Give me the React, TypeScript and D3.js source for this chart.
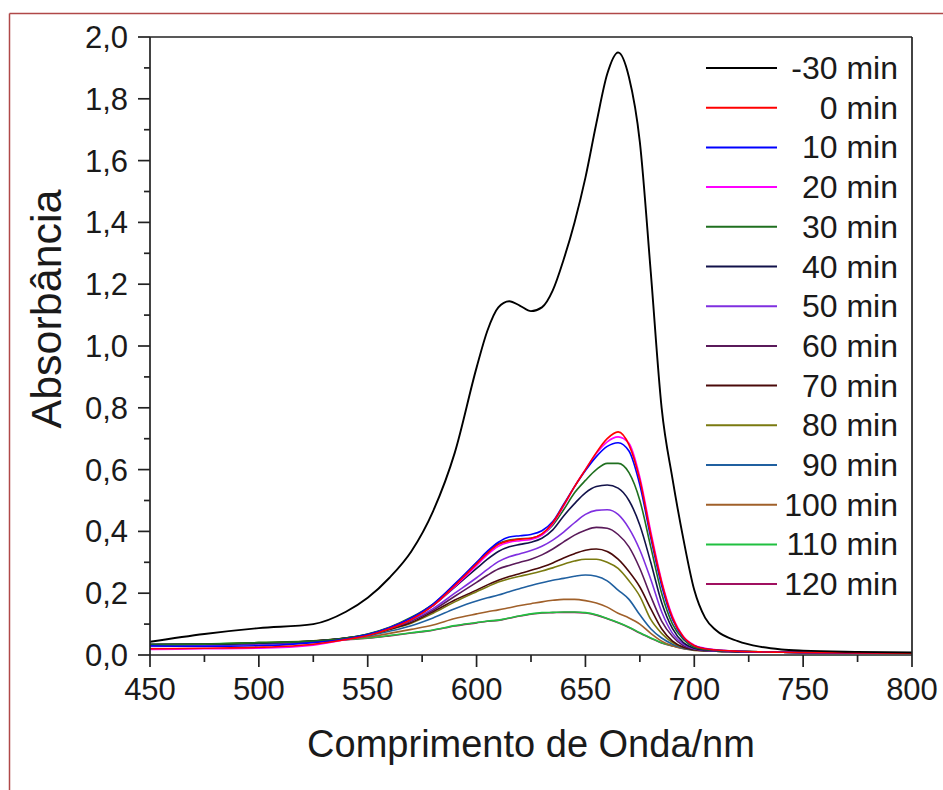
import React from "react";
import * as d3 from "d3";

const wavelengths = [450,475,500,525,540,550,560,570,580,590,600,605,610,615,620,625,630,635,640,645,650,655,660,665,670,675,680,685,690,695,700,705,710,720,730,740,750,775,800];

const seriesNames = ["-30 min","0 min","10 min","20 min","30 min","40 min","50 min","60 min","70 min","80 min","90 min","100 min","110 min","120 min"];
const seriesColors = ["#000000","#ff0000","#0000ff","#ff00ff","#1f6f1f","#12124a","#7f2fe0","#5a1a5a","#4a0a0a","#7a7a10","#2060a0","#a0602a","#20c040","#a01060"];

const sMinus30 = [0.043,0.068,0.087,0.100,0.140,0.185,0.250,0.335,0.465,0.655,0.930,1.050,1.125,1.145,1.130,1.113,1.125,1.180,1.280,1.400,1.545,1.720,1.880,1.950,1.870,1.660,1.240,0.800,0.570,0.375,0.210,0.120,0.080,0.045,0.027,0.018,0.014,0.010,0.008];
const s0 = [0.020,0.022,0.025,0.035,0.050,0.063,0.085,0.115,0.160,0.225,0.295,0.330,0.358,0.370,0.375,0.378,0.392,0.428,0.485,0.545,0.600,0.655,0.700,0.722,0.680,0.566,0.390,0.235,0.120,0.058,0.030,0.020,0.016,0.012,0.010,0.009,0.008,0.007,0.006];
const s10 = [0.030,0.028,0.030,0.040,0.052,0.066,0.088,0.120,0.165,0.230,0.300,0.336,0.365,0.382,0.386,0.390,0.402,0.432,0.488,0.545,0.597,0.642,0.675,0.687,0.660,0.550,0.380,0.225,0.115,0.056,0.030,0.020,0.016,0.012,0.010,0.009,0.008,0.007,0.006];
const s20 = [0.018,0.020,0.022,0.032,0.050,0.064,0.087,0.118,0.160,0.222,0.290,0.325,0.352,0.365,0.370,0.374,0.388,0.425,0.482,0.545,0.600,0.652,0.690,0.706,0.685,0.575,0.400,0.240,0.125,0.060,0.032,0.022,0.017,0.012,0.010,0.009,0.008,0.007,0.006];
const s30 = [0.032,0.035,0.040,0.045,0.055,0.068,0.090,0.122,0.165,0.228,0.298,0.333,0.360,0.372,0.376,0.378,0.390,0.420,0.470,0.525,0.565,0.600,0.620,0.620,0.590,0.500,0.350,0.200,0.100,0.050,0.025,0.018,0.015,0.012,0.010,0.009,0.008,0.007,0.006];
const s40 = [0.035,0.035,0.038,0.045,0.055,0.067,0.088,0.118,0.160,0.220,0.280,0.310,0.335,0.350,0.358,0.365,0.378,0.405,0.450,0.490,0.525,0.545,0.550,0.540,0.500,0.420,0.300,0.170,0.085,0.040,0.022,0.016,0.014,0.011,0.010,0.009,0.008,0.007,0.006];
const s50 = [0.028,0.030,0.035,0.043,0.054,0.066,0.086,0.113,0.150,0.200,0.250,0.277,0.302,0.318,0.328,0.338,0.352,0.372,0.398,0.428,0.455,0.468,0.470,0.455,0.410,0.340,0.245,0.140,0.070,0.035,0.020,0.015,0.013,0.011,0.010,0.009,0.008,0.007,0.006];
const s60 = [0.030,0.032,0.037,0.044,0.054,0.065,0.085,0.110,0.145,0.190,0.235,0.258,0.278,0.290,0.300,0.310,0.324,0.343,0.366,0.388,0.404,0.413,0.410,0.390,0.350,0.280,0.190,0.110,0.060,0.030,0.019,0.015,0.013,0.011,0.010,0.009,0.008,0.007,0.006];
const s70 = [0.033,0.034,0.038,0.045,0.055,0.065,0.083,0.105,0.140,0.178,0.210,0.227,0.242,0.254,0.264,0.274,0.285,0.298,0.314,0.328,0.339,0.343,0.335,0.310,0.270,0.220,0.150,0.085,0.045,0.025,0.017,0.014,0.012,0.011,0.010,0.009,0.008,0.007,0.006];
const s80 = [0.034,0.035,0.040,0.046,0.055,0.065,0.082,0.103,0.135,0.172,0.205,0.221,0.236,0.247,0.255,0.263,0.272,0.282,0.294,0.304,0.310,0.310,0.300,0.280,0.240,0.190,0.115,0.070,0.040,0.024,0.017,0.014,0.012,0.011,0.010,0.009,0.008,0.007,0.006];
const s90 = [0.030,0.032,0.037,0.044,0.053,0.062,0.077,0.095,0.120,0.150,0.175,0.185,0.194,0.205,0.215,0.225,0.234,0.242,0.248,0.255,0.259,0.255,0.240,0.210,0.180,0.130,0.085,0.055,0.035,0.022,0.016,0.014,0.012,0.011,0.010,0.009,0.008,0.007,0.006];
const s100 = [0.030,0.032,0.036,0.043,0.051,0.058,0.070,0.083,0.097,0.118,0.133,0.140,0.146,0.153,0.160,0.166,0.172,0.177,0.180,0.180,0.176,0.168,0.155,0.135,0.120,0.100,0.070,0.045,0.030,0.020,0.015,0.013,0.012,0.011,0.010,0.009,0.008,0.007,0.006];
const s110 = [0.035,0.036,0.040,0.044,0.050,0.055,0.063,0.072,0.081,0.095,0.105,0.110,0.113,0.120,0.127,0.133,0.137,0.138,0.139,0.139,0.137,0.130,0.118,0.105,0.090,0.072,0.055,0.040,0.030,0.022,0.018,0.015,0.013,0.011,0.010,0.009,0.008,0.007,0.006];
const s120 = [0.033,0.035,0.038,0.043,0.049,0.054,0.062,0.071,0.080,0.094,0.104,0.109,0.112,0.119,0.126,0.132,0.136,0.137,0.138,0.138,0.136,0.129,0.117,0.104,0.089,0.071,0.054,0.039,0.029,0.021,0.017,0.014,0.012,0.011,0.010,0.009,0.008,0.007,0.006];

const seriesValues = [sMinus30,s0,s10,s20,s30,s40,s50,s60,s70,s80,s90,s100,s110,s120];

const xMajorTicks = [450,500,550,600,650,700,750,800];
const yMajorTicks = [0,0.2,0.4,0.6,0.8,1.0,1.2,1.4,1.6,1.8,2.0];
const xTitle = "Comprimento de Onda/nm";
const yTitle = "Absorbância";

export default function App() {
  const W = 943, H = 790;
  const left = 150, right = 912, top = 37, bottom = 655;
  const x = d3.scaleLinear().domain([450, 800]).range([left, right]);
  const y = d3.scaleLinear().domain([0, 2.0]).range([bottom, top]);
  const line = d3.line<[number, number]>()
    .x(d => x(d[0]))
    .y(d => y(d[1]))
    .curve(d3.curveMonotoneX);
  const xMinor = d3.range(475, 800, 50);
  const yMinor = d3.range(0.1, 2.0, 0.2);
  const fmt = (v: number) => v.toFixed(1).replace(".", ",");
  const font = "'Liberation Sans', Arial, sans-serif";
  const legendX1 = 706, legendX2 = 777, legendTextX = 898, legendY0 = 68, legendStep = 39.7;
  const axisColor = "#222";
  const textColor = "#1a1a1a";

  const drawOrder = seriesValues.map((_, i) => i).reverse();

  return (
    <svg width={W} height={H} style={{ position: "absolute", left: 0, top: 0, background: "#fff" }} fontFamily={font}>
      <rect x={0} y={0} width={W} height={H} fill="#fff" />
      <line x1={9.5} y1={13.5} x2={9.5} y2={H} stroke="#b04848" strokeWidth={1.5} />
      <line x1={9.5} y1={13.5} x2={W} y2={13.5} stroke="#b04848" strokeWidth={1.5} />
      <defs>
        <clipPath id="plotclip">
          <rect x={left} y={top} width={right - left} height={bottom - top} />
        </clipPath>
      </defs>
      <g clipPath="url(#plotclip)">
        {drawOrder.map(i => (
          <path key={i}
            d={line(wavelengths.map((w, k) => [w, seriesValues[i][k]] as [number, number])) || ""}
            fill="none" stroke={seriesColors[i]} strokeWidth={i === 0 ? 1.9 : 1.6} strokeLinejoin="round" />
        ))}
      </g>
      <line x1={left} y1={top} x2={right} y2={top} stroke={axisColor} strokeWidth={1.7} />
      <line x1={right} y1={top} x2={right} y2={bottom} stroke={axisColor} strokeWidth={1.7} />
      <line x1={left} y1={top} x2={left} y2={bottom} stroke={axisColor} strokeWidth={1.7} />
      <line x1={left} y1={bottom} x2={right} y2={bottom} stroke={axisColor} strokeWidth={1.7} />
      {xMajorTicks.map(t => (
        <g key={"xt" + t}>
          <line x1={x(t)} x2={x(t)} y1={bottom} y2={bottom + 12} stroke={axisColor} strokeWidth={1.7} />
          <text x={x(t)} y={700} textAnchor="middle" fontSize={31} fill={textColor}>{t}</text>
        </g>
      ))}
      {xMinor.map(t => (
        <line key={"xm" + t} x1={x(t)} x2={x(t)} y1={bottom} y2={bottom + 7} stroke={axisColor} strokeWidth={1.7} />
      ))}
      {yMajorTicks.map(t => (
        <g key={"yt" + t}>
          <line x1={left - 12} x2={left} y1={y(t)} y2={y(t)} stroke={axisColor} strokeWidth={1.7} />
          <text x={128} y={y(t) + 11} textAnchor="end" fontSize={31} fill={textColor}>{fmt(t)}</text>
        </g>
      ))}
      {yMinor.map(t => (
        <line key={"ym" + t.toFixed(1)} x1={left - 6} x2={left} y1={y(t)} y2={y(t)} stroke={axisColor} strokeWidth={1.7} />
      ))}
      <text x={(left + right) / 2} y={757} textAnchor="middle" fontSize={38} fill={textColor}>{xTitle}</text>
      <text transform={`translate(61, ${309}) rotate(-90)`} textAnchor="middle" fontSize={43} fill={textColor}>{yTitle}</text>
      {seriesNames.map((name, i) => {
        const ly = legendY0 + i * legendStep;
        return (
          <g key={"lg" + i}>
            <line x1={legendX1} x2={legendX2} y1={ly} y2={ly} stroke={seriesColors[i]} strokeWidth={2} />
            <text x={legendTextX} y={ly + 11} textAnchor="end" fontSize={32} fill={textColor}>{name}</text>
          </g>
        );
      })}
    </svg>
  );
}
